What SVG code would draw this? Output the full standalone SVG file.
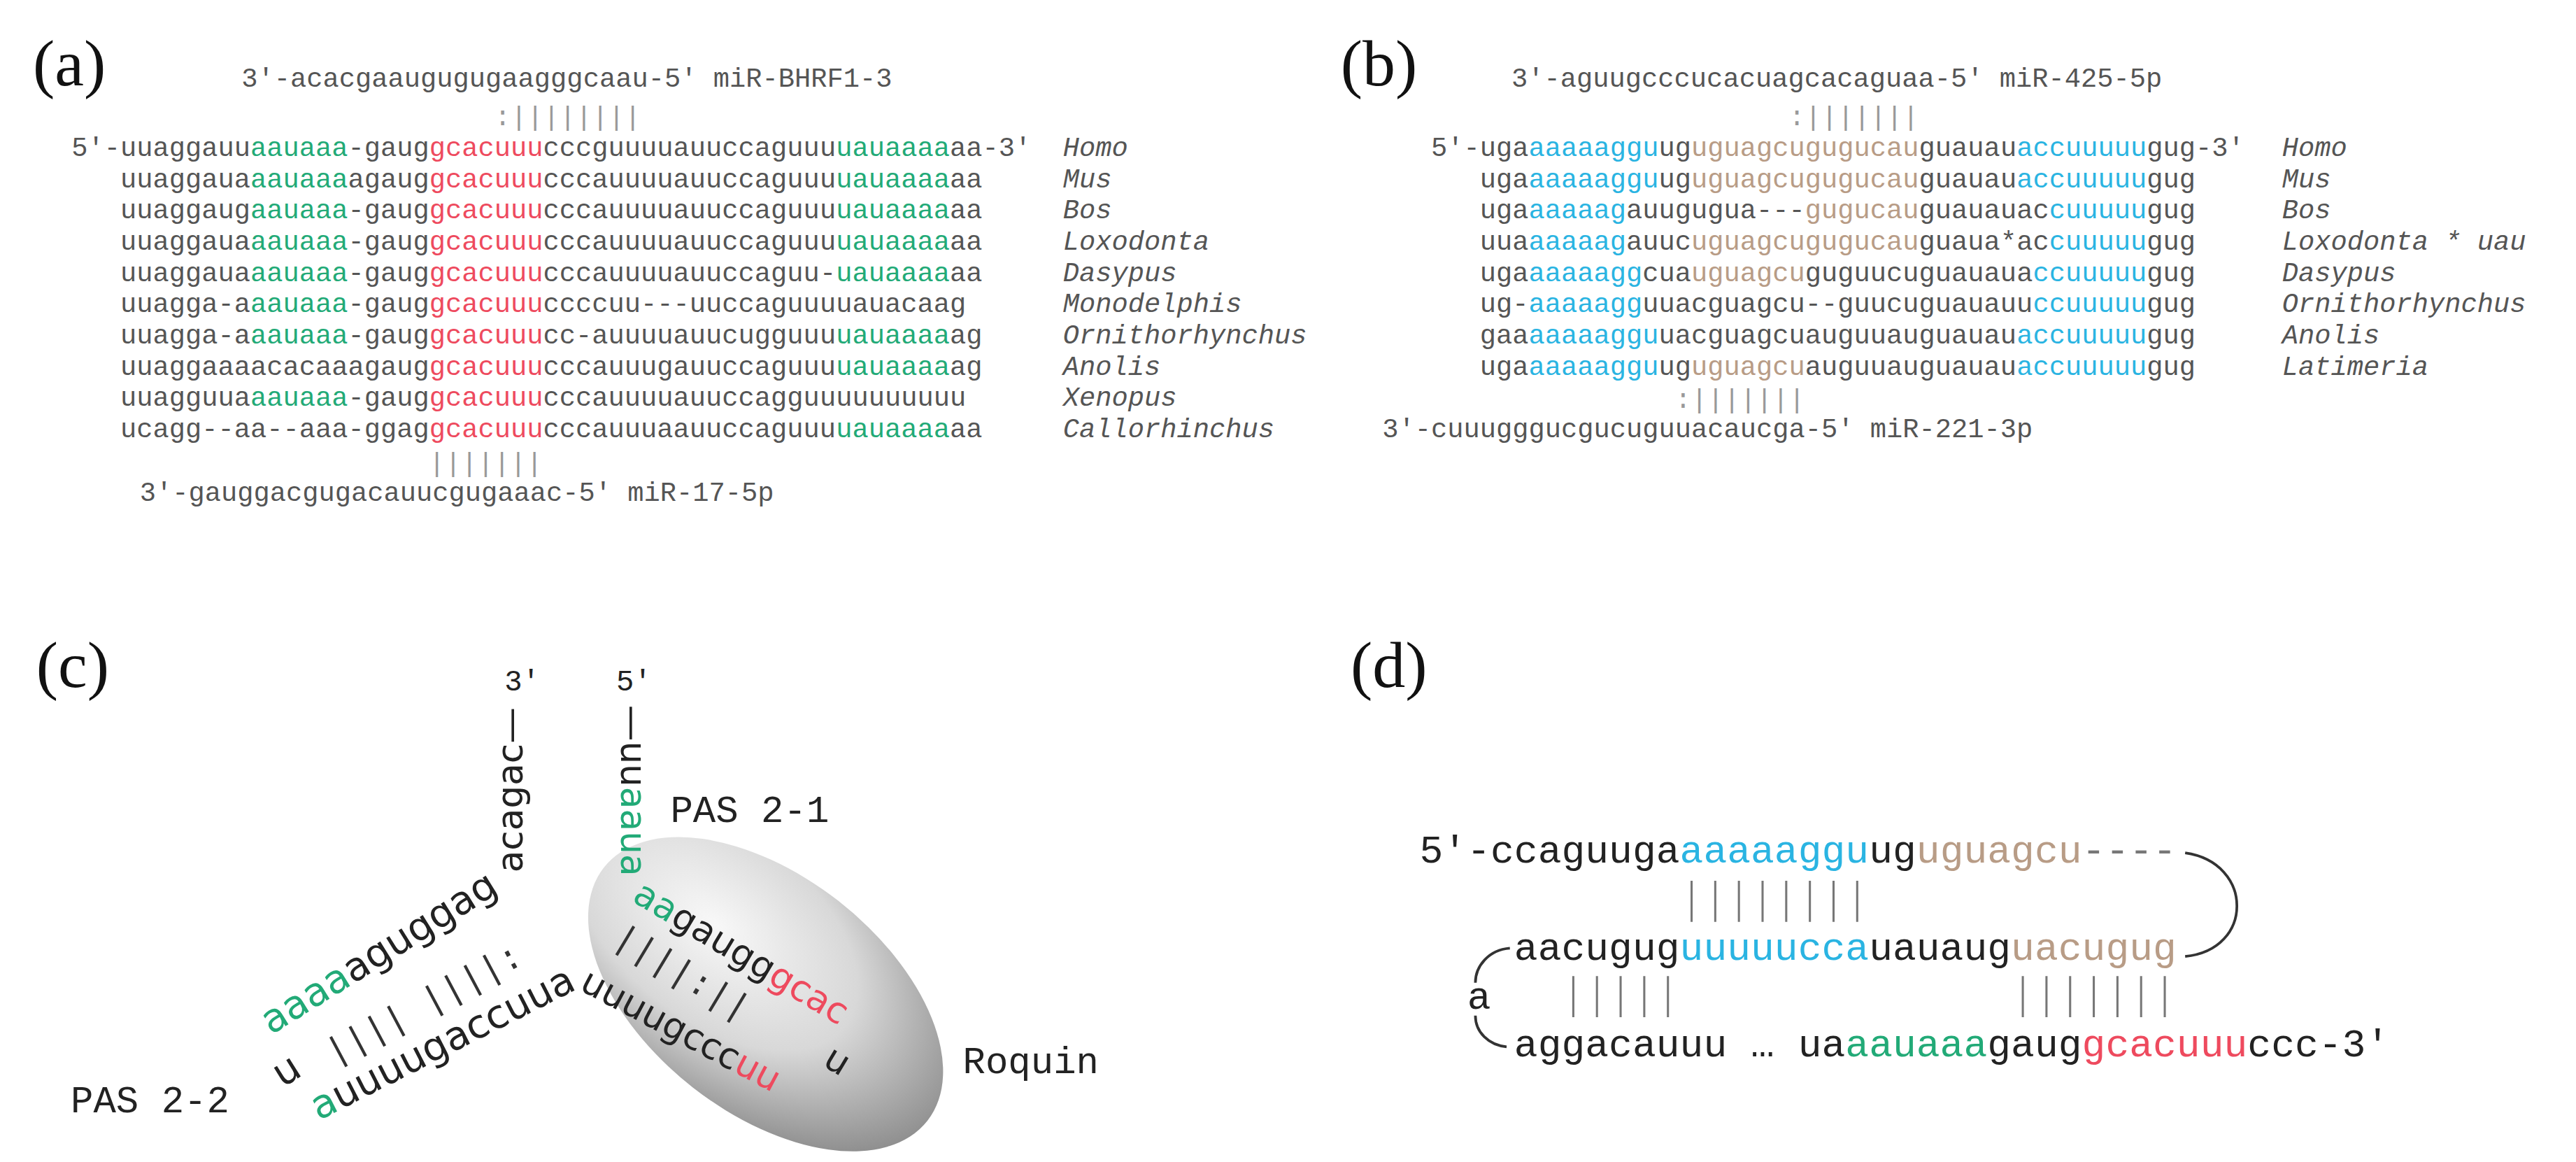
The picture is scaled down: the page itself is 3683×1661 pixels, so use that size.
<svg xmlns="http://www.w3.org/2000/svg" width="3683" height="1661" viewBox="0 0 3683 1661">
<style>
.lab{font-family:"Liberation Serif",serif;font-size:40px;fill:#111}
.m{font-family:"Liberation Mono",monospace;font-size:16.5px;fill:#555}
.sp{font-family:"Liberation Mono",monospace;font-size:16.5px;fill:#555;font-style:italic}
.pr{font-family:"Liberation Mono",monospace;font-size:16.5px;fill:#999}
.g{fill:#22aa77}.r{fill:#ee4a5e}.b{fill:#2ab4e2}.t{fill:#b89c86}
.s{font-family:"DejaVu Sans",sans-serif;font-size:22px;fill:#222}
.sl{font-family:"DejaVu Sans",sans-serif;font-size:24px;fill:#222}
.pm{font-family:"Liberation Mono",monospace;font-size:22px;fill:#333}
.cl{font-family:"Liberation Mono",monospace;font-size:23px;fill:#222}
.pr5{font-family:"Liberation Mono",monospace;font-size:18px;fill:#222}
.d{font-family:"Liberation Mono",monospace;font-size:24px;fill:#222}
.bar{stroke:#777;stroke-width:1.3}
.cv{fill:none;stroke:#333;stroke-width:1.6}
</style>
<defs>
<radialGradient id="rg" cx="0.3" cy="0.4" r="0.8">
<stop offset="0" stop-color="#f8f8f8"/><stop offset="0.5" stop-color="#d8d8d8"/><stop offset="1" stop-color="#7e7e7e"/>
</radialGradient>
</defs>
<rect width="3683" height="1661" fill="#fff"/>
<g transform="scale(2.349)">
<g id="labels">
<text class="lab" x="20" y="52">(a)</text>
<text class="lab" x="816" y="52">(b)</text>
<text class="lab" x="22" y="418">(c)</text>
<text class="lab" x="822" y="418">(d)</text>
</g>
<g id="panel-a">
<text class="m" x="147" y="53">3′-acacgaaugugugaagggcaau-5′ miR-BHRF1-3</text>
<text class="pr" x="301" y="76">:||||||||</text>
<text class="m" x="43.5" y="95">5′-uuaggauu<tspan class="g">aauaaa</tspan>-gaug<tspan class="r">gcacuuu</tspan>cccguuuuauuccaguuu<tspan class="g">uauaaaa</tspan>aa-3′</text>
<text class="m" x="73.2" y="114">uuaggaua<tspan class="g">aauaaa</tspan>agaug<tspan class="r">gcacuuu</tspan>cccauuuuauuccaguuu<tspan class="g">uauaaaa</tspan>aa</text>
<text class="m" x="73.2" y="133">uuaggaug<tspan class="g">aauaaa</tspan>-gaug<tspan class="r">gcacuuu</tspan>cccauuuuauuccaguuu<tspan class="g">uauaaaa</tspan>aa</text>
<text class="m" x="73.2" y="152">uuaggaua<tspan class="g">aauaaa</tspan>-gaug<tspan class="r">gcacuuu</tspan>cccauuuuauuccaguuu<tspan class="g">uauaaaa</tspan>aa</text>
<text class="m" x="73.2" y="171">uuaggaua<tspan class="g">aauaaa</tspan>-gaug<tspan class="r">gcacuuu</tspan>cccauuuuauuccaguu-<tspan class="g">uauaaaa</tspan>aa</text>
<text class="m" x="73.2" y="190">uuagga-a<tspan class="g">aauaaa</tspan>-gaug<tspan class="r">gcacuuu</tspan>ccccuu---uuccaguuuuauacaag</text>
<text class="m" x="73.2" y="209">uuagga-a<tspan class="g">aauaaa</tspan>-gaug<tspan class="r">gcacuuu</tspan>cc-auuuuauucugguuu<tspan class="g">uauaaaa</tspan>ag</text>
<text class="m" x="73.2" y="228">uuaggaaaacacaaagaug<tspan class="r">gcacuuu</tspan>cccauuugauuccaguuu<tspan class="g">uauaaaa</tspan>ag</text>
<text class="m" x="73.2" y="247">uuagguua<tspan class="g">aauaaa</tspan>-gaug<tspan class="r">gcacuuu</tspan>cccauuuuauuccagguuuuuuuuuu</text>
<text class="m" x="73.2" y="266">ucagg--aa--aaa-ggag<tspan class="r">gcacuuu</tspan>cccauuuaauuccaguuu<tspan class="g">uauaaaa</tspan>aa</text>
<text class="sp" x="647" y="95">Homo</text>
<text class="sp" x="647" y="114">Mus</text>
<text class="sp" x="647" y="133">Bos</text>
<text class="sp" x="647" y="152">Loxodonta</text>
<text class="sp" x="647" y="171">Dasypus</text>
<text class="sp" x="647" y="190">Monodelphis</text>
<text class="sp" x="647" y="209">Ornithorhynchus</text>
<text class="sp" x="647" y="228">Anolis</text>
<text class="sp" x="647" y="247">Xenopus</text>
<text class="sp" x="647" y="266">Callorhinchus</text>
<text class="pr" x="261" y="287">|||||||</text>
<text class="m" x="85" y="305">3′-gauggacgugacauucgugaaac-5′ miR-17-5p</text>
</g>
<g id="panel-b">
<text class="m" x="920" y="53">3′-aguugcccucacuagcacaguaa-5′ miR-425-5p</text>
<text class="pr" x="1088.8" y="76">:|||||||</text>
<text class="m" x="871" y="95">5′-uga<tspan class="b">aaaaaggu</tspan>ug<tspan class="t">uguagcugugucau</tspan>guauau<tspan class="b">accuuuuu</tspan>gug-3′</text>
<text class="m" x="900.7" y="114">uga<tspan class="b">aaaaaggu</tspan>ug<tspan class="t">uguagcugugucau</tspan>guauau<tspan class="b">accuuuuu</tspan>gug</text>
<text class="m" x="900.7" y="133">uga<tspan class="b">aaaaag</tspan>auugugua---<tspan class="t">gugucau</tspan>guauauac<tspan class="b">cuuuuu</tspan>gug</text>
<text class="m" x="900.7" y="152">uua<tspan class="b">aaaaag</tspan>auuc<tspan class="t">uguagcugugucau</tspan>guaua*ac<tspan class="b">cuuuuu</tspan>gug</text>
<text class="m" x="900.7" y="171">uga<tspan class="b">aaaaagg</tspan>cua<tspan class="t">uguagcu</tspan>guguucuguauaua<tspan class="b">ccuuuuu</tspan>gug</text>
<text class="m" x="900.7" y="190">ug-<tspan class="b">aaaaagg</tspan>uuacguagcu--guucuguauauu<tspan class="b">ccuuuuu</tspan>gug</text>
<text class="m" x="900.7" y="209">gaa<tspan class="b">aaaaaggu</tspan>uacguagcuauguuauguauau<tspan class="b">accuuuuu</tspan>gug</text>
<text class="m" x="900.7" y="228">uga<tspan class="b">aaaaaggu</tspan>ug<tspan class="t">uguagcu</tspan>auguuauguauau<tspan class="b">accuuuuu</tspan>gug</text>
<text class="sp" x="1389" y="95">Homo</text>
<text class="sp" x="1389" y="114">Mus</text>
<text class="sp" x="1389" y="133">Bos</text>
<text class="sp" x="1389" y="152">Loxodonta * uau</text>
<text class="sp" x="1389" y="171">Dasypus</text>
<text class="sp" x="1389" y="190">Ornithorhynchus</text>
<text class="sp" x="1389" y="209">Anolis</text>
<text class="sp" x="1389" y="228">Latimeria</text>
<text class="pr" x="1019.5" y="248">:|||||||</text>
<text class="m" x="841.3" y="266">3′-cuuugggucgucuguuacaucga-5′ miR-221-3p</text>
</g>
<g id="panel-c">
<ellipse cx="466" cy="605" rx="125" ry="72" transform="rotate(38 466 605)" fill="url(#rg)"/>
<text class="pr5" x="307" y="420">3′</text>
<text class="pr5" x="375" y="420">5′</text>
<text class="s" transform="translate(318 531) rotate(-90)">acagac—</text>
<text class="s" transform="translate(378 429) rotate(90)">—uu<tspan class="g">aaua</tspan></text>
<text class="s" transform="translate(384 548) rotate(31)"><tspan class="g">aa</tspan>gaugg<tspan class="r">gcac</tspan></text>
<text class="s r" transform="translate(500 648) rotate(31)">u</text>
<text class="s" transform="translate(352 602) rotate(28)">uuuugccc<tspan class="r">uu</tspan></text>
<text class="pm" transform="translate(372 574) rotate(31)">||||:||</text>
<text class="sl" transform="translate(165 630) rotate(-32)"><tspan class="g">aaaa</tspan>aguggag</text>
<text class="sl g" transform="translate(172 662) rotate(-32)">u</text>
<text class="sl" transform="translate(194 682) rotate(-27)"><tspan class="g">a</tspan>uuuugaccuua</text>
<text class="pm" transform="translate(203 648) rotate(-28)">|||| ||||:</text>
<text class="cl" x="408" y="500">PAS 2-1</text>
<text class="cl" x="43" y="677">PAS 2-2</text>
<text class="cl" x="586" y="653">Roquin</text>
</g>
<g id="panel-d">
<text class="d" x="864" y="525">5′-ccaguuga<tspan class="b">aaaaaggu</tspan>ug<tspan class="t">uguagcu</tspan><tspan fill="#777">----</tspan></text>
<text class="d" x="921.6" y="584">aacugug<tspan class="b">uuuuucca</tspan>uauaug<tspan class="t">uacugug</tspan></text>
<text class="d" x="921.6" y="643">aggacauuu … ua<tspan class="g">aauaaa</tspan>gaug<tspan class="r">gcacuuu</tspan>ccc-3′</text>
<text class="d" x="893" y="614">a</text>
</g>
<g id="connectors">
<g class="bar">
<path d="M1029.6 536V561M1044 536V561M1058.4 536V561M1072.8 536V561M1087.2 536V561M1101.6 536V561M1116 536V561M1130.4 536V561"/>
<path d="M957.6 594V619M972 594V619M986.4 594V619M1000.8 594V619M1015.2 594V619"/>
<path d="M1231.2 594V619M1245.6 594V619M1260 594V619M1274.4 594V619M1288.8 594V619M1303.2 594V619M1317.6 594V619"/>
</g>
<path class="cv" d="M1330 519C1372 525 1372 578 1330 582"/>
<path class="cv" d="M919 577C906 578 898 588 898 598M898 618C898 628 906 636 917 637"/>
</g>
</g>
</svg>
